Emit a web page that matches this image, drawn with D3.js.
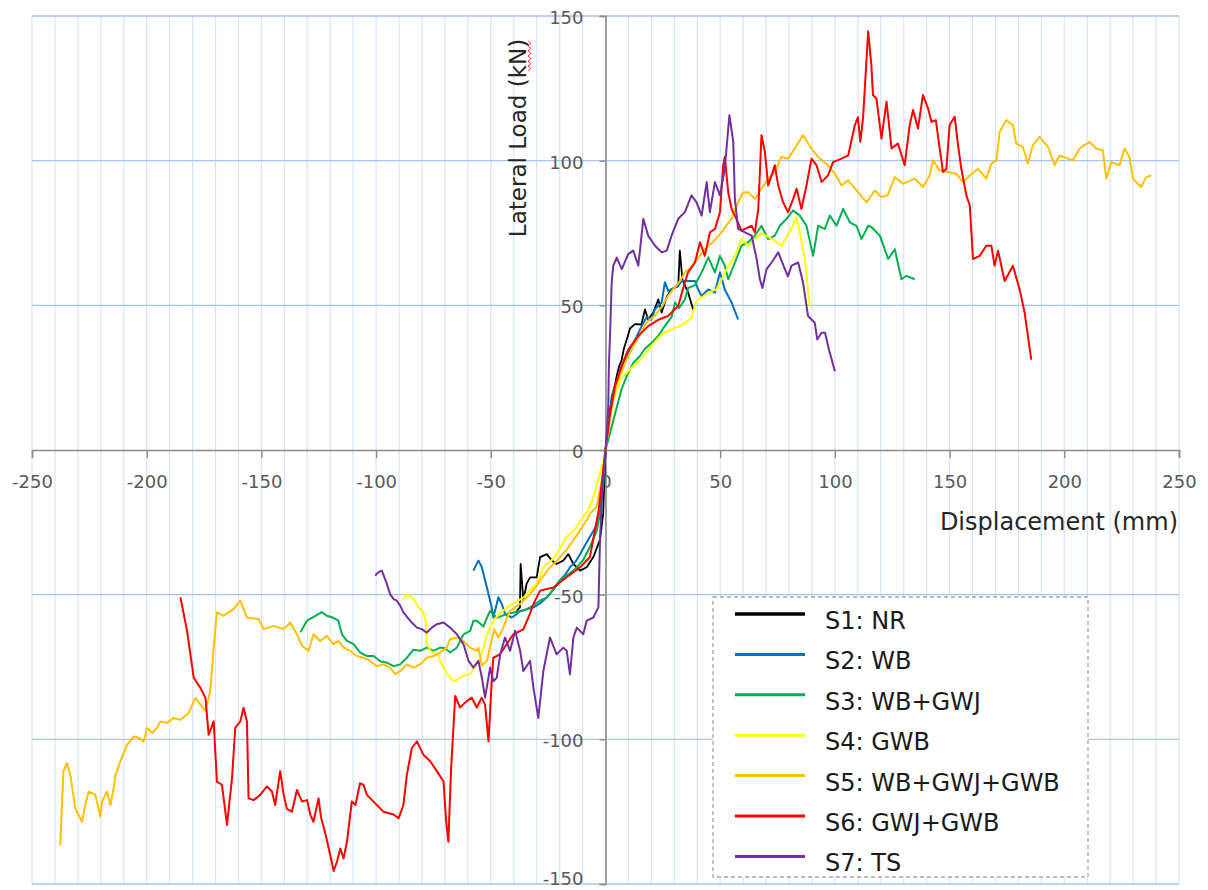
<!DOCTYPE html>
<html>
<head>
<meta charset="utf-8">
<script src="https://cdnjs.cloudflare.com/ajax/libs/d3/7.8.5/d3.min.js"></script>
<style>
  body { margin: 0; background: #fff; }
  text { font-family: "DejaVu Sans", sans-serif; }
</style>
</head>
<body>
<svg width="1208" height="890"></svg>
<script>
// series labels / colours
let seriesNames = ["S1: NR", "S2: WB", "S3: WB+GWJ", "S4: GWB", "S5: WB+GWJ+GWB", "S6: GWJ+GWB", "S7: TS"];
let seriesColors = ["#000000", "#0070C0", "#00B050", "#FFFF00", "#FFC000", "#FF0000", "#7030A0"];

let xTicks = [-250, -200, -150, -100, -50, 0, 50, 100, 150, 200, 250];
let yTicks = [-150, -100, -50, 0, 50, 100, 150];

// [displacement mm, load kN]
let s1 = [[-38.7,-55.6],[-37.3,-54.4],[-37,-39.4],[-35.8,-52],[-34.4,-46.3],[-32.9,-44],[-30,-44],[-28.5,-37],[-25.6,-36],[-23.4,-38.2],[-21.3,-39.4],[-18.4,-38.2],[-16.2,-36],[-14,-39.4],[-11.1,-41.7],[-8.2,-40.5],[-5.3,-37],[-2.4,-31],[-1,-22],[0,0],
  [1,8],[2,14],[3,19],[4,22],[5,26],[6,29],[7,31],[8,35],[9.2,38],[10.7,42],[12.8,43.5],[15.7,43.4],[17.2,48.6],[18.6,45],[20.8,47.5],[23,52],[24.5,47.5],[26.7,53],[28.8,55.5],[31.7,56.7],[32.4,68.9],[33.5,59],[36,54.4],[38.2,48.6]];

let s2 = [[-57.6,-41.7],[-55.4,-38.2],[-53.9,-40.5],[-51.7,-47.5],[-49.6,-54.4],[-48.9,-57.9],[-46.7,-50.9],[-45.2,-53.2],[-43.8,-56.7],[-40.9,-57.9],[-38.7,-56.7],[-37.2,-55.6],[-34,-55],[-31.4,-54.4],[-28.5,-53],[-25.6,-51],[-22.5,-48],[-19.8,-45],[-17.5,-43],[-15.5,-40.5],[-13,-38.5],[-11.1,-36],[-9,-33],[-6.8,-30],[-4.5,-27],[-2.4,-22],[-1,-10],[0,0],
  [1,6],[2.7,18.5],[5,24],[7,27.8],[9,32],[11.4,36],[13.5,39],[15.7,42.8],[18,46],[20,45],[21.5,48.6],[24.5,51],[25.9,58],[27.3,55],[28.8,55.6],[31.7,56.7],[33.2,58.4],[36,58.4],[39,58.4],[40.4,55.5],[41.9,53.2],[44.8,55.5],[47.7,54.4],[49.9,61.4],[52,55.5],[55,50.9],[57.8,45.1]];

let s3 = [[-133,-63],[-130.1,-59],[-126.5,-57.3],[-123.7,-56],[-121.5,-57.3],[-118.6,-58],[-116.4,-59],[-114.9,-63.7],[-112.7,-66],[-109.8,-67.1],[-106.9,-70],[-104,-71.2],[-101.1,-71.2],[-98.2,-73],[-95.3,-73.5],[-92.4,-74.7],[-89.5,-74.1],[-86.6,-71.8],[-83.7,-69],[-80.8,-69.4],[-77.9,-68.3],[-75,-69.4],[-72.1,-68.3],[-70,-68.5],[-67.7,-70],[-64.8,-68.3],[-61.9,-63.7],[-59,-62.5],[-57.6,-59],[-56.1,-59],[-53.2,-61],[-51.7,-58],[-50.3,-55.6],[-47.4,-58],[-43,-56.7],[-39,-56],[-35.8,-55.6],[-32,-54],[-28.5,-52],[-25.6,-51],[-22.5,-48],[-19.8,-45],[-17,-43.5],[-14,-41.7],[-12,-40],[-9.7,-38],[-6.5,-33],[-3.9,-28],[-2.4,-22],[-1,-12],[0,0],
  [2.7,8],[5,15],[7,21],[9.5,26],[12,30],[15,32.5],[17.2,35],[20,37],[23,39.4],[26,43],[28.8,46],[30.3,51],[32,49],[34.6,52],[36,56],[39,57],[41.9,61.4],[44.8,66.6],[47.7,61.4],[49.9,67.1],[52,63.7],[53.5,59],[56.4,64.8],[59.3,70.6],[62.2,71.8],[65.1,74.1],[68,77.5],[70.9,72.9],[73.8,74.1],[76,77.5],[78.9,79.9],[81.8,82.8],[84.7,81],[87.6,77.5],[90.5,67.1],[92.7,77.5],[95.6,76.4],[97.8,81],[100.7,77.5],[103.6,83.3],[106.5,78.7],[109.4,77.5],[111.6,72.9],[114.5,77.5],[116,77],[119.6,74.1],[123.2,66],[126.1,69.4],[129,59],[131.2,60.2],[134.8,59]];

let s4 = [[-88,-51.5],[-86.6,-49.8],[-83.7,-51.5],[-81.5,-54.4],[-79.4,-56],[-78.2,-60],[-77.9,-67],[-76.4,-69.4],[-75,-70],[-72.8,-70.6],[-72.1,-73],[-70.6,-75.2],[-68.5,-78],[-66.3,-80],[-64,-79],[-61.9,-78],[-59,-77.5],[-57,-75],[-54.7,-71.8],[-53,-68],[-51.7,-63.7],[-48.9,-59],[-46,-56.5],[-43,-54.4],[-39,-52.5],[-35.8,-51],[-33,-48.5],[-30,-46.3],[-28.5,-43.5],[-27.1,-40.5],[-25,-39],[-22.7,-37.6],[-19.5,-33.5],[-16.9,-30],[-14.5,-28.5],[-12.5,-26.6],[-11.1,-24.5],[-9.5,-23],[-7.5,-20.8],[-5.3,-16.5],[-4,-12.5],[-2.4,-8],[-1,-4],[0,0],
  [1.2,8],[3.4,17],[6.3,24],[10.7,28],[15,31],[20,36],[24.5,40],[28.8,41.7],[33,43],[37.5,45.7],[39.7,51.5],[44.8,54.4],[48.4,55.5],[50.6,59],[52.8,62.5],[56.4,67],[59.3,73],[62.2,70.6],[65.1,73],[68,75],[72.4,73],[76.7,70.6],[81,76.4],[83.3,80.4],[84.7,75.2],[86.9,66],[89,49.8]];

let s5 = [[-237.7,-136.6],[-236.3,-111.1],[-234.8,-108.2],[-233.3,-112.3],[-231.1,-123.9],[-228.2,-128.5],[-226.8,-122.7],[-225.3,-118.1],[-222.4,-119.2],[-220.2,-126.7],[-219.5,-121.5],[-217.3,-118.1],[-215.8,-122.7],[-214.4,-116.9],[-213.6,-112.3],[-211.5,-107.6],[-208.5,-101.8],[-205.6,-99],[-203.5,-99.5],[-201.3,-100.7],[-199.8,-96.1],[-197.6,-97.8],[-195.5,-96.1],[-194,-93.8],[-191.1,-94.3],[-188.2,-92.6],[-185.3,-93.2],[-181.7,-90.9],[-178.8,-85.6],[-176.6,-88],[-174.4,-90.3],[-172.3,-83.3],[-170.8,-68.3],[-169.4,-56.1],[-166.5,-57.3],[-162.1,-55],[-159.2,-52.1],[-156.3,-57.9],[-151.2,-58.4],[-149,-61.9],[-144.7,-60.8],[-140.3,-61.9],[-137.4,-59.6],[-134.5,-63.7],[-132.3,-67.7],[-129.4,-69.4],[-127.3,-63.7],[-124.4,-66],[-121.5,-64.2],[-118.6,-67.1],[-116.4,-66],[-114.2,-68.3],[-111.3,-69.4],[-108.4,-71.2],[-105.5,-71.8],[-102.6,-72.9],[-99.7,-74.7],[-96.8,-74.1],[-93.9,-75.2],[-91.7,-77.5],[-89.5,-76.4],[-86.6,-74.1],[-83.7,-75.2],[-80.8,-74.1],[-77.9,-71.8],[-75,-71.2],[-72.1,-70],[-69.2,-68.3],[-67.7,-65.4],[-64.8,-64.8],[-61.9,-66],[-59,-68.3],[-56.1,-69.4],[-55.4,-68.3],[-53.9,-74.5],[-51.7,-72.9],[-50,-67],[-48.5,-62],[-46.7,-64.8],[-44.5,-61.3],[-43,-58],[-41.6,-55.6],[-39.5,-54.5],[-37.2,-53.2],[-35,-51.5],[-32.9,-49.8],[-30.5,-47.5],[-28.5,-45],[-26.5,-43],[-24.2,-40.5],[-22,-39],[-19.8,-37],[-17,-34.5],[-14,-31.2],[-11.1,-27.8],[-8.2,-24.3],[-6.8,-22],[-3.9,-19.7],[-1.5,-10],[0,0],
  [1.5,8],[3,16],[5,23],[7,27],[9,31],[11,34],[13,37],[15,40],[17,43],[19,45],[21,46],[23,48],[25,50],[27,53],[29,55],[31,57],[33,59],[34.6,61.4],[37,63],[40,66],[43.3,69.4],[47,72],[50.6,75.2],[53,78],[55,80],[57.8,85.6],[60,89],[62.2,89.1],[65.1,86.8],[68,90.3],[70.9,93.8],[73.8,96],[76.7,101.3],[79.6,100.7],[82.5,104.2],[86.1,108.8],[89.8,104.2],[92.7,101.3],[97,98.4],[100,95.5],[102.9,91.4],[105.8,93.2],[110.1,89.1],[113.8,85.6],[117.4,89.7],[120.3,87.4],[123,88],[126.1,94.3],[129.7,92],[134.8,93.8],[138.4,90.9],[141.3,94.9],[142.8,100.1],[145.7,96.6],[149.3,96.1],[152.9,95.5],[155.8,92.6],[158.8,94.9],[162.4,97.2],[166,93.8],[168.2,99],[170.4,100.1],[171.8,109.9],[174.7,114],[177.6,112.3],[179.1,105.9],[181.9,104.8],[184.1,99],[186.3,105.3],[189.2,108.2],[192.9,104.8],[195.8,98.4],[197.9,101.8],[201.6,100.7],[203.7,100.1],[206.7,104.2],[211,106.5],[213.9,104.2],[216.8,103.6],[218.3,93.8],[220.5,99.5],[224.1,98.4],[226.3,104.2],[228.4,101.3],[229.9,93.8],[233.5,90.9],[235.7,94.3],[237.9,94.9]];

let s6 = [[-185.3,-50.9],[-182.4,-62.5],[-179.5,-78.7],[-176.6,-82.2],[-174.4,-85.6],[-173,-98.4],[-170.8,-93.8],[-169.4,-114.6],[-167.2,-115.7],[-165,-129.6],[-162.8,-113.4],[-161.4,-96],[-159.2,-93.8],[-157.8,-89.1],[-156.3,-93.8],[-155.6,-120.4],[-153.4,-121],[-150.5,-119.2],[-147.6,-116.3],[-145.4,-118],[-144,-122.7],[-141.8,-111],[-140.3,-119.2],[-138.9,-124],[-136.7,-125],[-134.5,-117.5],[-132.3,-121.5],[-130.1,-121],[-128.7,-126],[-127.3,-128.5],[-125.1,-120.4],[-124,-127],[-122,-133],[-120,-140],[-118.5,-145.5],[-117.1,-142.4],[-115.6,-137.7],[-114.2,-141.2],[-112.7,-135.4],[-110.6,-121.5],[-109,-122.7],[-107,-115.2],[-105.5,-115.7],[-104,-119.2],[-99.7,-122.7],[-96.8,-125],[-92.4,-126],[-90.2,-127.3],[-88.1,-122.7],[-86.6,-112.3],[-84.4,-103],[-82.2,-100.7],[-79.4,-105.3],[-76.4,-107.6],[-73.5,-111],[-70.6,-114.6],[-69.5,-128],[-68.5,-135.4],[-67.3,-110],[-66.3,-96],[-65.5,-85],[-63.4,-89],[-60.5,-86.8],[-58.3,-85.6],[-56.1,-89],[-54,-85.6],[-52.5,-88],[-51,-100.7],[-49.6,-80],[-48.9,-71.8],[-46,-70.6],[-43,-67],[-40.2,-63.7],[-35.8,-62],[-33,-56.7],[-31.4,-53.2],[-28.5,-48.6],[-22.7,-47.5],[-17,-44],[-11,-40.5],[-6.8,-37],[-3,-21],[0,0],
  [2,12.7],[4.1,22],[7,29],[9.9,34.7],[14.3,39.4],[18.6,42.8],[23,45],[27.3,46.3],[31.7,49.8],[34.6,58],[36,61.4],[39,64.8],[41.2,71.8],[43.3,67.1],[45.5,75.2],[47.7,76.4],[49.9,82.2],[51.3,98.4],[52,101.3],[53.5,89],[55,83.3],[56.4,81],[59.3,75.8],[63.7,77.5],[65.1,75.2],[66.6,83.3],[68,108.8],[69.5,103],[70.9,91.4],[72.4,94.9],[73.8,98.4],[75.3,91.4],[77.4,85.6],[79.6,82.2],[81.8,86.8],[83.3,90.3],[85.4,83.3],[87.6,91.4],[89.8,100.7],[92,98.4],[94.2,92.6],[97,94.9],[99.2,99.5],[102.9,100.7],[105.8,101.8],[108.7,112.3],[110,115],[111.1,106.5],[112.3,115],[114.5,144.7],[115.9,133],[116.6,122.7],[118.1,121.5],[120.3,107.6],[122.5,120.4],[124.7,104.2],[127.5,105.9],[130.4,98.4],[132.6,112.3],[134.1,117.5],[136.2,111.1],[138.4,122.7],[140.6,118.1],[142.1,113.4],[144,114],[145.7,104.2],[147.1,96.1],[148.6,97.2],[150,112.3],[152.2,115.2],[153.7,105.3],[155.1,97.2],[157.3,88],[158.8,84.5],[160.2,66],[163.1,67.1],[166,70.6],[168.2,70.6],[169.6,63.7],[171.1,68.9],[174,58.4],[177.6,63.7],[180.5,55.6],[182.7,47.5],[185.6,31.2]];

let s7 = [[-100.4,-43.4],[-98.9,-42.2],[-97.5,-41.7],[-95.3,-46.3],[-93.9,-49.8],[-92.4,-51.5],[-91,-52.1],[-89.5,-53.8],[-88.1,-56.1],[-85.2,-59],[-82.2,-61.4],[-80.1,-61.9],[-77.9,-63.1],[-75.7,-61.4],[-73.5,-60.2],[-70.6,-59.6],[-67.7,-61.4],[-64.8,-63.7],[-61.9,-67.1],[-59.7,-72.9],[-57.6,-75.2],[-55.4,-72.9],[-53.9,-78.7],[-52.5,-85.6],[-50.3,-75.2],[-48.9,-79.9],[-47.4,-78.7],[-45.9,-70.6],[-43.8,-64.8],[-41.6,-69.4],[-39.4,-62.5],[-37.2,-69.4],[-35.8,-76.4],[-32.9,-72.9],[-31.4,-82.2],[-29.3,-92.6],[-27.1,-76.4],[-24.2,-64.8],[-21.3,-70.6],[-18.4,-68.3],[-16.9,-69.4],[-15.5,-77.5],[-14,-64.8],[-12.5,-61.4],[-9.7,-63.7],[-8.2,-59],[-5.3,-57.9],[-3.1,-54.4],[-2.4,-31.2],[-1.5,-15],[0,0],
  [0.5,5],[1.2,15],[1.5,30],[2,40],[2.7,58],[3.4,63.7],[4.9,66.5],[7.1,62.5],[9.9,67.7],[12.1,68.9],[14.3,63.7],[16.5,79.9],[18.6,74.1],[21.6,70.6],[24.5,68.3],[26.7,68.9],[28.8,74.1],[31.7,79.9],[34.6,82.2],[37.5,88],[39.7,85.6],[41.9,81],[44.1,92.6],[45.5,82.2],[47.7,92.6],[49.9,88],[52,97.2],[54,115.7],[55.7,106.5],[56.4,86.8],[57.8,76.4],[60.8,75.2],[63.7,74.1],[65.9,66],[67.3,59],[68.4,56],[70.2,62.5],[72.4,64.8],[75.3,68.3],[78.2,62.5],[79.5,60],[81.1,63.7],[84,64.8],[86.1,57.9],[88.3,46.3],[91.2,44],[92.3,38.2],[94.2,40.5],[95.7,40.5],[97.4,34.7],[100,27.2]];

let allSeries = [s1, s2, s3, s4, s5, s6, s7];

let svg = d3.select("svg");

let x = d3.scaleLinear().domain([-250, 250]).range([32, 1179]);
let y = d3.scaleLinear().domain([-150, 150]).range([884, 16]);

// gridlines: vertical every 10 mm, horizontal at the load ticks
let grid = svg.append("g");
grid.selectAll(".vgrid")
  .data(d3.range(-250, 251, 10))
  .enter().append("line")
  .attr("x1", d => x(d)).attr("x2", d => x(d))
  .attr("y1", y(150)).attr("y2", y(-150))
  .attr("stroke", "#d7e4f6")
  .attr("stroke-width", 1.2);

grid.selectAll(".hgrid")
  .data(yTicks.filter(d => d !== 0))
  .enter().append("line")
  .attr("x1", x(-250)).attr("x2", x(250))
  .attr("y1", d => y(d)).attr("y2", d => y(d))
  .attr("stroke", "#a9c5ec")
  .attr("stroke-width", 1.4);

// axes crossing at the origin
let xAxis = svg.append("g")
  .attr("transform", "translate(0," + y(0) + ")")
  .call(d3.axisBottom(x).tickValues(xTicks).tickSize(8).tickPadding(17).tickFormat(d => String(d)));

let yAxis = svg.append("g")
  .attr("transform", "translate(" + x(0) + ",0)")
  .call(d3.axisLeft(y).tickValues(yTicks).tickSize(6).tickPadding(16).tickFormat(d => String(d)));

[xAxis, yAxis].forEach(a => {
  a.select(".domain").attr("stroke", "#8c8c8c").attr("stroke-width", 1.6);
  a.selectAll(".tick line").attr("stroke", "#8c8c8c").attr("stroke-width", 1.4);
  a.selectAll(".tick text")
    .attr("fill", "#595959")
    .style("font-size", "18px")
    .style("font-family", "DejaVu Sans, sans-serif");
});
// bottom label sits on the window edge, nudge it up so it stays whole
yAxis.selectAll(".tick text").attr("dy", d => d === -150 ? "0.05em" : "0.42em");

// curves
let line = d3.line().x(d => x(d[0])).y(d => y(d[1]));

svg.append("g").selectAll("path")
  .data(allSeries)
  .enter().append("path")
  .attr("d", line)
  .attr("fill", "none")
  .attr("stroke", (d, i) => seriesColors[i])
  .attr("stroke-width", (d, i) => i === 0 ? 1.8 : 2)
  .attr("stroke-linejoin", "round");

// axis titles
svg.append("text")
  .attr("transform", "translate(518,138) rotate(-90)")
  .attr("text-anchor", "middle")
  .attr("dominant-baseline", "central")
  .attr("fill", "#262626")
  .style("font-size", "23px")
  .text("Lateral Load (kN)");

// spell-check squiggle under "kN" as in the screenshot
let squiggle = d3.range(0, 13).map(k => [k % 2 ? 531 : 528, 41 + k * 2.5]);
svg.append("path")
  .attr("d", d3.line()(squiggle))
  .attr("fill", "none")
  .attr("stroke", "#ff4040")
  .attr("stroke-width", 1);

svg.append("text")
  .attr("x", 1178)
  .attr("y", 530)
  .attr("text-anchor", "end")
  .attr("fill", "#262626")
  .style("font-size", "24px")
  .text("Displacement (mm)");

// legend
let legend = svg.append("g");
legend.append("rect")
  .attr("x", 713).attr("y", 597)
  .attr("width", 375).attr("height", 280)
  .attr("fill", "#fff")
  .attr("stroke", "#a6a6a6")
  .attr("stroke-width", 1.3)
  .attr("stroke-dasharray", "4,3");

let rowY = i => 614 + i * 40.4;

seriesNames.forEach((name, i) => {
  legend.append("line")
    .attr("x1", 735).attr("x2", 805)
    .attr("y1", rowY(i)).attr("y2", rowY(i))
    .attr("stroke", seriesColors[i])
    .attr("stroke-width", i === 0 ? 3.5 : 3);
  legend.append("text")
    .attr("x", 825)
    .attr("y", rowY(i) + 7)
    .attr("dominant-baseline", "central")
    .attr("fill", "#1a1a1a")
    .style("font-size", "24px")
    .text(name);
});
</script>
</body>
</html>
